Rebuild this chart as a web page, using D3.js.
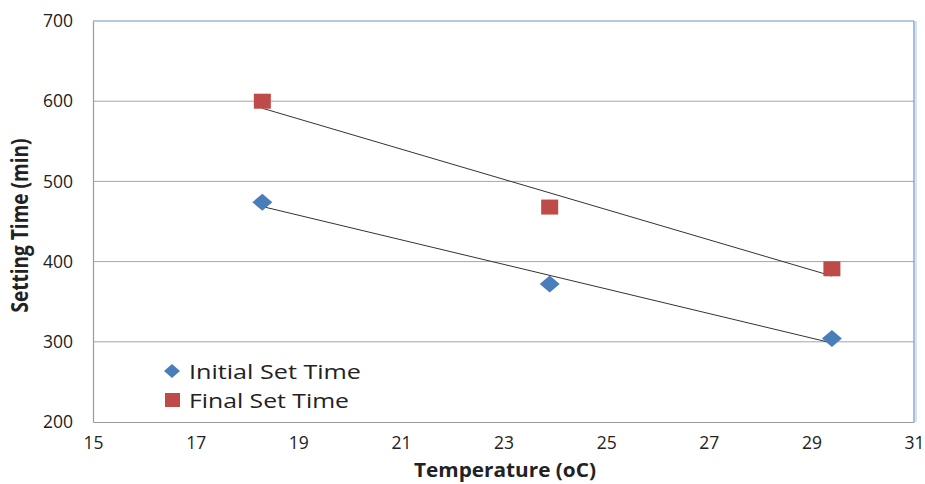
<!DOCTYPE html>
<html><head><meta charset="utf-8">
<script src="https://cdn.jsdelivr.net/npm/d3@7"></script>
<style>body{margin:0;background:#fff;}svg{display:block;}text{font-family:"Open Sans",sans-serif;fill:#222;}</style>
</head><body>
<svg id="c" width="925" height="484"></svg>
<script>
const temperatures = [18.3, 23.9, 29.4];
const initialSet = [474, 372, 304];
const finalSet = [600, 468, 391];
const xTicks = [15, 17, 19, 21, 23, 25, 27, 29, 31];
const yTicks = [200, 300, 400, 500, 600, 700];
const seriesNames = ["Initial Set Time", "Final Set Time"];

const svg = d3.select("#c");
const L = 93, R = 914, T = 21, B = 422;
const x = d3.scaleLinear().domain([15, 31]).range([L, R]);
const y = d3.scaleLinear().domain([200, 700]).range([B, T]);

svg.append("g").selectAll("line").data(yTicks.filter(v => v > 200 && v < 700)).join("line")
  .attr("x1", L).attr("x2", R).attr("y1", d => y(d)).attr("y2", d => y(d))
  .attr("stroke", "#a6a6a6").attr("stroke-width", 1);

svg.append("line").attr("x1", L).attr("x2", R).attr("y1", T).attr("y2", T).attr("stroke", "#6f93c6").attr("stroke-width", 1.2);
svg.append("line").attr("x1", R).attr("x2", R).attr("y1", T).attr("y2", B).attr("stroke", "#6f93c6").attr("stroke-width", 1.2);
svg.append("line").attr("x1", R+2).attr("x2", R+2).attr("y1", T).attr("y2", B).attr("stroke", "#c6dbf3").attr("stroke-width", 1.5);

const xAxis = svg.append("g").attr("transform", `translate(0,${B})`)
  .call(d3.axisBottom(x).tickValues(xTicks).tickSize(0).tickPadding(15).tickFormat(d3.format("d")));
const yAxis = svg.append("g").attr("transform", `translate(${L},0)`)
  .call(d3.axisLeft(y).tickValues(yTicks).tickSize(0).tickPadding(20).tickFormat(d3.format("d")));
[xAxis, yAxis].forEach(g => {
  g.select(".domain").attr("stroke", "#9a9a9a").attr("stroke-width", 1.2);
  g.selectAll("text").attr("font-size", 17.5).attr("fill", "#222").style("font-family", "'Open Sans',sans-serif");
});

function fit(xs, ys) {
  const mx = d3.mean(xs), my = d3.mean(ys);
  const sxy = d3.sum(xs, (v, i) => (v - mx) * (ys[i] - my));
  const sxx = d3.sum(xs, v => (v - mx) ** 2);
  const b = sxy / sxx; return [b, my - b * mx];
}
[initialSet, finalSet].forEach(vals => {
  const [b, a] = fit(temperatures, vals);
  const x0 = d3.min(temperatures), x1 = d3.max(temperatures);
  svg.append("line").attr("x1", x(x0)).attr("y1", y(a + b * x0))
    .attr("x2", x(x1)).attr("y2", y(a + b * x1))
    .attr("stroke", "#333").attr("stroke-width", 1);
});

const diamond = (rx, ry) => `M0,${-ry}L${rx},0L0,${ry}L${-rx},0Z`;
svg.append("g").selectAll("path").data(temperatures).join("path")
  .attr("d", diamond(10, 8.5)).attr("transform", (d, i) => `translate(${x(d)},${y(initialSet[i])})`)
  .attr("fill", "#4a7ebb");
svg.append("g").selectAll("rect").data(temperatures).join("rect")
  .attr("x", d => x(d) - 8.5).attr("y", (d, i) => y(finalSet[i]) - 7.5)
  .attr("width", 17).attr("height", 15).attr("fill", "#be4b48");

svg.append("text").attr("x", 505).attr("y", 477).attr("text-anchor", "middle")
  .attr("font-size", 19.5).attr("font-weight", "bold")
  .attr("textLength", 182).attr("lengthAdjust", "spacingAndGlyphs").text("Temperature (oC)");
svg.append("text").attr("transform", `translate(28,${(T + B) / 2 + 4}) scale(1.2,1) rotate(-90)`).attr("text-anchor", "middle")
  .attr("font-size", 19).attr("font-weight", "bold")
  .attr("textLength", 174).attr("lengthAdjust", "spacingAndGlyphs").text("Setting Time (min)");

const lg = svg.append("g");
lg.append("path").attr("d", diamond(8, 7)).attr("transform", "translate(172,371)").attr("fill", "#4a7ebb");
lg.append("rect").attr("x", 165).attr("y", 393).attr("width", 15).attr("height", 14).attr("fill", "#be4b48");
const legendLens = [172, 160];
lg.selectAll("text").data(seriesNames).join("text")
  .attr("x", 189).attr("y", (d, i) => 379 + i * 29).attr("font-size", 20).attr("fill", "#222")
  .attr("textLength", (d, i) => legendLens[i]).attr("lengthAdjust", "spacingAndGlyphs").text(d => d);
</script>
</body></html>
